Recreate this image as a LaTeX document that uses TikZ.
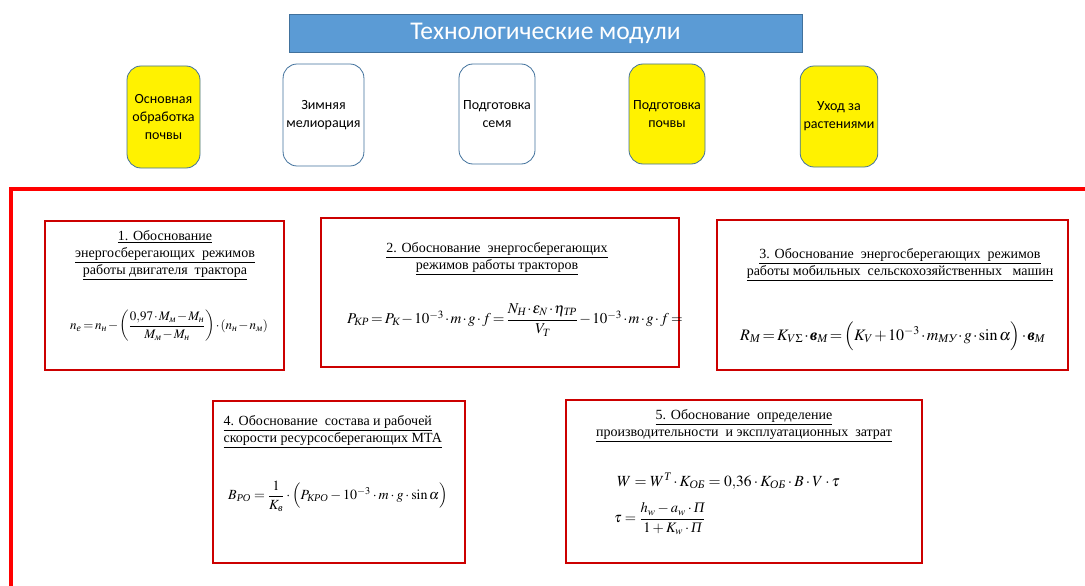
\documentclass[tikz,border=0pt]{standalone}
\usepackage{amsmath}
\usepackage{mathptmx}
\usepackage{fontspec}
\setmainfont{Liberation Serif}
\newfontfamily\calib{Carlito}
\newcommand\sub[1]{\text{\itshape #1}}
\newcommand\bv{\text{\bfseries\itshape в}}
\newcommand\tightmath{\medmuskip=1.5mu\thickmuskip=2.5mu\thinmuskip=2mu}
\definecolor{titleblue}{RGB}{91,155,213}
\definecolor{edgeblue}{RGB}{65,113,156}
\definecolor{boxred}{RGB}{204,0,0}
\definecolor{framered}{RGB}{255,0,0}
\tikzset{
  module/.style={draw=edgeblue, line width=0.8pt, rounded corners=14pt, align=center, font=\calib\fontsize{14}{18}\selectfont},
  yel/.style={fill=yellow},
  wht/.style={fill=white},
  taskbox/.style={draw=boxred, line width=2.2pt},
  head/.style={align=center, font=\fontsize{14}{17}\selectfont},
  formula/.style={anchor=west, inner sep=0pt},
}
\begin{document}
\begin{tikzpicture}[x=1pt,y=-1pt]
\useasboundingbox (0,0) rectangle (1085,586);
% title
\node[draw=edgeblue, fill=titleblue, line width=0.8pt, minimum width=513pt, minimum height=38pt, inner sep=0pt, text=white, font=\calib\fontsize{25.5}{28}\selectfont] (title) at (545.5,33) {Технологические модули};
% modules
\node[module, yel, minimum width=73pt, minimum height=102pt] (m1) at (163.5,117) {Основная\\обработка\\почвы};
\node[module, wht, minimum width=77pt, minimum height=102pt] (m2) at (323.5,115) {Зимняя\\мелиорация};
\node[module, wht, minimum width=76pt, minimum height=100pt] (m3) at (497,114) {Подготовка\\семя};
\node[module, yel, minimum width=76pt, minimum height=100pt] (m4) at (667,114) {Подготовка\\почвы};
\node[module, yel, minimum width=74pt, minimum height=101pt] (m5) at (839,116.5) {Уход за\\растениями};
% big red frame
\draw[framered, line width=4pt] (10.5,590) -- (10.5,189) -- (1090,189);
% task boxes
\draw[taskbox] (45,221) rectangle (284,370);
\draw[taskbox] (321,218) rectangle (679,367);
\draw[taskbox] (717,220) rectangle (1068,370);
\draw[taskbox] (213,401) rectangle (465,563);
\draw[taskbox] (566,400) rectangle (922,563);
% headings
\node[head] (h1) at (165,255) {\underline{1. Обоснование}\\\underline{энергосберегающих\ \ режимов}\\\underline{работы двигателя\ \ трактора}};
\node[head] (h2) at (497,259) {\underline{2. Обоснование\ \ энергосберегающих}\\\underline{режимов работы тракторов}};
\node[head] (h3) at (900,265) {\underline{3. Обоснование\ \ энергосберегающих\ \ режимов}\\\underline{работы мобильных\ \ сельскохозяйственных\ \ \ машин}};
\node[head, anchor=west, align=left] (h4) at (220,432) {\underline{4. Обоснование\ \ состава и рабочей}\\\underline{скорости ресурсосберегающих МТА}};
\node[head] (h5) at (744,426) {\underline{5. Обоснование\ \ определение}\\\underline{производительности\ \ и эксплуатационных\ \ затрат}};
% formulas
\node[formula, font=\fontsize{13}{15}\selectfont] (f1) at (70,326) {$\tightmath n_{\sub{е}} = n_{\sub{н}} - \left(\dfrac{0{,}97\cdot M_{\sub{м}} - M_{\sub{н}}}{M_{\sub{м}} - M_{\sub{н}}}\right)\cdot(n_{\sub{н}} - n_{\sub{м}})$};
\node[formula, font=\fontsize{15}{18}\selectfont] (f2) at (347,320) {$\tightmath P_{\sub{КР}} = P_{\sub{К}} - 10^{-3}\cdot m\cdot g\cdot f = \dfrac{N_{\sub{Н}}\cdot\varepsilon_{N}\cdot\eta_{\sub{ТР}}}{V_{\sub{Т}}} - 10^{-3}\cdot m\cdot g\cdot f =$};
\node[formula, font=\fontsize{16}{19}\selectfont] (f3) at (740,336) {$\tightmath R_{\sub{М}} = K_{V\Sigma}\cdot\bv_{\sub{М}} = \Bigl(K_{V} + 10^{-3}\cdot m_{\sub{МУ}}\cdot g\cdot\sin\alpha\Bigr)\cdot\bv_{\sub{М}}$};
\node[formula, font=\fontsize{14}{17}\selectfont] (f4) at (228,496) {$B_{\sub{РО}} = \dfrac{1}{K_{\sub{в}}}\cdot\Bigl(P_{\sub{КРО}} - 10^{-3}\cdot m\cdot g\cdot\sin\alpha\Bigr)$};
\node[formula, font=\fontsize{15.5}{18}\selectfont] (f5a) at (617,481) {$W = W^{\sub{Т}}\cdot K_{\sub{ОБ}} = 0{,}36\cdot K_{\sub{ОБ}}\cdot B\cdot V\cdot\tau$};
\node[formula, font=\fontsize{14.5}{17}\selectfont] (f5b) at (614,519) {$\tau = \dfrac{h_{w} - a_{w}\cdot\text{\itshape П}}{1 + K_{w}\cdot\text{\itshape П}}$};
\end{tikzpicture}
\end{document}
